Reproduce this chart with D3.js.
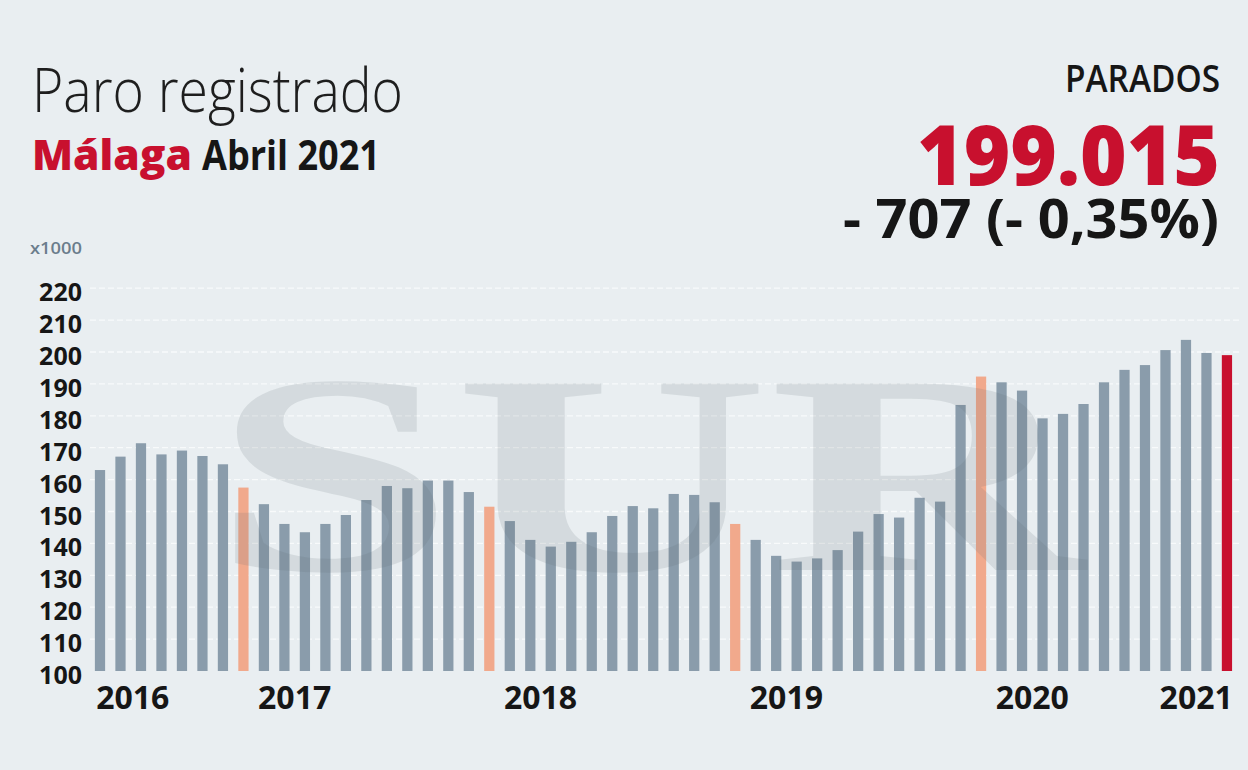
<!DOCTYPE html>
<html>
<head>
<meta charset="utf-8">
<script src="https://cdn.jsdelivr.net/npm/d3@7/dist/d3.min.js"></script>
<style>
  html, body { margin: 0; padding: 0; background: #e9eef1; }
  svg { display: block; }
</style>
</head>
<body>
<svg id="chart" width="1248" height="770" font-family="'Open Sans', 'Noto Sans', sans-serif"></svg>
<script>
// ---- Data (thousands of registered unemployed, Málaga) ----
const months = [
  "sep 2016","oct 2016","nov 2016","dic 2016",
  "ene 2017","feb 2017","mar 2017","abr 2017","may 2017","jun 2017","jul 2017","ago 2017","sep 2017","oct 2017","nov 2017","dic 2017",
  "ene 2018","feb 2018","mar 2018","abr 2018","may 2018","jun 2018","jul 2018","ago 2018","sep 2018","oct 2018","nov 2018","dic 2018",
  "ene 2019","feb 2019","mar 2019","abr 2019","may 2019","jun 2019","jul 2019","ago 2019","sep 2019","oct 2019","nov 2019","dic 2019",
  "ene 2020","feb 2020","mar 2020","abr 2020","may 2020","jun 2020","jul 2020","ago 2020","sep 2020","oct 2020","nov 2020","dic 2020",
  "ene 2021","feb 2021","mar 2021","abr 2021"
];
const parados = [
  163.0, 167.2, 171.4, 167.9,
  169.1, 167.4, 164.8, 157.5, 152.3, 146.1, 143.5, 146.1, 148.9, 153.6, 158.0, 157.3,
  159.7, 159.7, 156.1, 151.5, 147.0, 141.1, 139.0, 140.5, 143.5, 148.6, 151.7, 151.0,
  155.5, 155.2, 152.9, 146.1, 141.1, 136.1, 134.3, 135.3, 137.9, 143.7, 149.2, 148.1,
  154.3, 153.1, 183.4, 192.3, 190.5, 187.9, 179.2, 180.6, 183.7, 190.5, 194.4, 195.9,
  200.6, 203.8, 199.7, 199.015
];
const years = ["2016", "2017", "2018", "2019", "2020", "2021"];
const yTicks = [100, 110, 120, 130, 140, 150, 160, 170, 180, 190, 200, 210, 220];

const titleText = "Paro registrado";
const placeText = "Málaga";
const dateText = "Abril 2021";
const headLabel = "PARADOS";
const headValue = "199.015";
const headChange = "- 707 (- 0,35%)";
const unitText = "x1000";
const watermark = "SUR";

// ---- Colours ----
const C_BG = "#e9eef1", C_BAR = "#8a9cab", C_APR = "#f1a98c", C_RED = "#c8102e", C_TXT = "#161616";

const svg = d3.select("#chart");
svg.append("rect").attr("width", 1248).attr("height", 770).attr("fill", C_BG);

// ---- Scales ----
const step = 20.49;
const x = d3.scaleBand()
  .domain(months)
  .range([100 - step / 2, 100 + step * (months.length - 0.5)])
  .paddingInner(0.5)
  .paddingOuter(0.25);
const y = d3.scaleLinear().domain([100, 220]).range([671, 288.2]);

// ---- Grid ----
const grid = svg.append("g");
grid.selectAll("line").data(yTicks.filter(d => d > 100)).join("line")
  .attr("x1", 90).attr("x2", 1240)
  .attr("y1", d => y(d)).attr("y2", d => y(d))
  .attr("stroke", "#f8fafb").attr("stroke-width", 1.3)
  .attr("stroke-dasharray", "6,3");

// ---- Y axis labels ----
const yAxis = d3.axisLeft(y).tickValues(yTicks).tickSize(0).tickPadding(0);
const yg = svg.append("g").attr("transform", "translate(82,0)").call(yAxis);
yg.attr("font-family", null);
yg.select(".domain").remove();
yg.selectAll("text")
  .style("font-family", "'Open Sans', sans-serif")
  .attr("font-size", 25).attr("font-weight", 700)
  .attr("fill", C_TXT).attr("dy", "0.5em").attr("x", 0);

svg.append("text").attr("x", 30).attr("y", 254)
  .attr("font-size", 16).attr("font-weight", 600).attr("fill", "#6b7d8c")
  .attr("textLength", 52).attr("lengthAdjust", "spacingAndGlyphs")
  .text(unitText);

// ---- Bars ----
const n = months.length;
svg.append("g").selectAll("rect").data(parados).join("rect")
  .attr("x", (d, i) => x(months[i]))
  .attr("width", x.bandwidth())
  .attr("y", d => y(d))
  .attr("height", d => y(100) - y(d))
  .attr("fill", (d, i) => i === n - 1 ? C_RED : (months[i].startsWith("abr") ? C_APR : C_BAR));

// ---- Watermark ----
svg.append("text")
  .attr("x", 212).attr("y", 570)
  .style("font-family", "'Liberation Serif', 'DejaVu Serif', serif")
  .attr("font-weight", 700).attr("font-size", 285)
  .attr("textLength", 872).attr("lengthAdjust", "spacingAndGlyphs")
  .attr("fill", "#5f6a75").attr("fill-opacity", 0.15)
  .text(watermark);

// ---- Year labels ----
svg.append("g").selectAll("text").data(years).join("text")
  .attr("x", yr => {
    const idx = months.map((m, i) => m.endsWith(yr) ? i : -1).filter(i => i >= 0);
    const a = x(months[idx[0]]), b = x(months[idx[idx.length - 1]]) + x.bandwidth();
    return (a + b) / 2 + (yr === "2016" ? 2 : 0);
  })
  .attr("y", 709)
  .attr("text-anchor", "middle")
  .attr("font-size", 32).attr("font-weight", 700).attr("fill", C_TXT)
  .text(d => d);

// ---- Titles ----
svg.append("text").attr("x", 32).attr("y", 112)
  .attr("font-size", 61).attr("font-weight", 300).attr("fill", "#1e1e1e")
  .attr("textLength", 371).attr("lengthAdjust", "spacingAndGlyphs")
  .text(titleText);
svg.append("text").attr("x", 32).attr("y", 170)
  .attr("font-size", 42).attr("font-weight", 800).attr("fill", C_RED)
  .attr("textLength", 160).attr("lengthAdjust", "spacingAndGlyphs")
  .text(placeText);
svg.append("text").attr("x", 202).attr("y", 170)
  .attr("font-size", 42).attr("font-weight", 700).attr("fill", C_TXT)
  .attr("textLength", 178).attr("lengthAdjust", "spacingAndGlyphs")
  .text(dateText);

svg.append("text").attr("x", 1065).attr("y", 92)
  .attr("font-size", 38).attr("font-weight", 600).attr("fill", C_TXT)
  .attr("textLength", 155).attr("lengthAdjust", "spacingAndGlyphs")
  .text(headLabel);
svg.append("text").attr("x", 917).attr("y", 185)
  .attr("font-size", 84).attr("font-weight", 800).attr("fill", C_RED)
  .attr("textLength", 303).attr("lengthAdjust", "spacingAndGlyphs")
  .text(headValue);
svg.append("text").attr("x", 843).attr("y", 238)
  .attr("font-size", 54).attr("font-weight", 700).attr("fill", C_TXT)
  .attr("textLength", 376).attr("lengthAdjust", "spacingAndGlyphs")
  .text(headChange);
</script>
</body>
</html>
